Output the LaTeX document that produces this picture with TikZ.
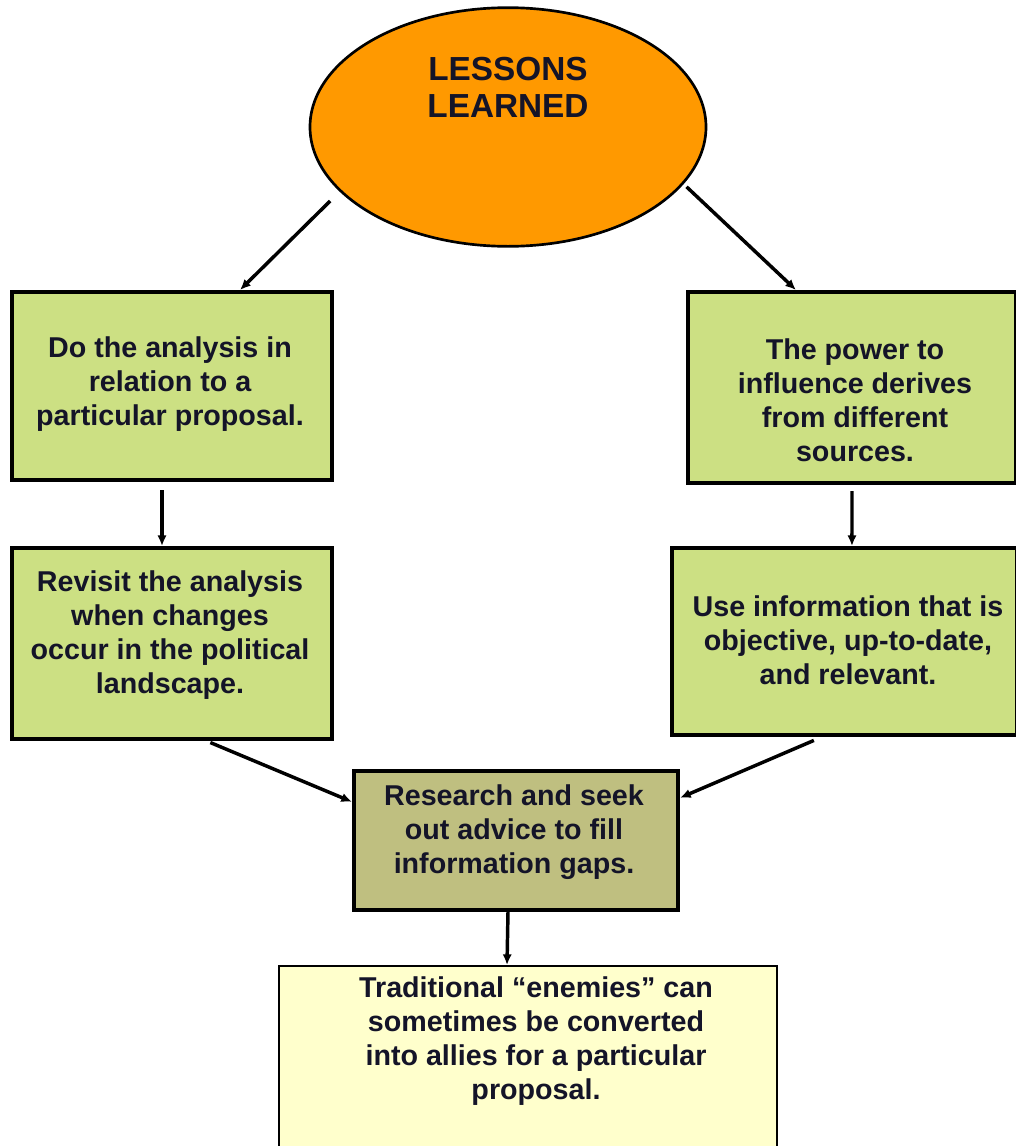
\documentclass[tikz,border=0pt]{standalone}
\usepackage{fontspec}
\setmainfont{Liberation Sans}
\usetikzlibrary{arrows.meta,shapes.geometric}

\definecolor{lessonorange}{RGB}{255,153,0}
\definecolor{stepgreen}{RGB}{204,224,131}
\definecolor{stepolive}{RGB}{191,191,128}
\definecolor{stepyellow}{RGB}{255,255,204}
\definecolor{textnavy}{RGB}{20,20,40}

\tikzset{
  stepbox/.style={draw,line width=3pt,anchor=north west,inner sep=0pt},
  steptext/.style={align=center,inner sep=0.75pt,text=textnavy,
    font=\fontsize{21.5}{25.5}\selectfont\bfseries},
  flow/.style={-{Latex[length=8pt,width=7pt]},line width=2.6pt},
}

\begin{document}
\begin{tikzpicture}[x=0.75pt,y=0.75pt,yscale=-1,xscale=1]
\useasboundingbox (0,0) rectangle (1016,1146);

%Shape: Ellipse
\node [ellipse,draw,line width=2pt,fill=lessonorange,minimum width=297pt,minimum height=179pt,inner sep=0pt] (lessons) at (508,127) {};
%Shape: Rectangle
\node [stepbox,fill=stepgreen,minimum width=240pt,minimum height=141pt] (analysis) at (10,290) {};
%Shape: Rectangle
\node [stepbox,fill=stepgreen,minimum width=246pt,minimum height=143.25pt] (power) at (686,290) {};
%Shape: Rectangle
\node [stepbox,fill=stepgreen,minimum width=240pt,minimum height=143.25pt] (revisit) at (10,546) {};
%Shape: Rectangle
\node [stepbox,fill=stepgreen,minimum width=258.75pt,minimum height=140.25pt] (info) at (670,546) {};
%Shape: Rectangle
\node [stepbox,fill=stepolive,minimum width=243pt,minimum height=104.25pt] (research) at (352,769) {};
%Shape: Rectangle
\node [stepbox,line width=1.5pt,fill=stepyellow,minimum width=373.5pt,minimum height=146pt] (enemies) at (278,965) {};

% Text Node
\node [steptext,font=\fontsize{25}{27.75}\selectfont\bfseries] (lessonstxt) at (508,87) {LESSONS\\LEARNED};
% Text Node
\node [steptext] (analysistxt) at (170,384) {Do the analysis in\\relation to a\\particular proposal.};
% Text Node
\node [steptext] (powertxt) at (855,400) {The power to\\influence derives\\from different\\sources.};
% Text Node
\node [steptext] (revisittxt) at (170,635) {Revisit the analysis\\when changes\\occur in the political\\landscape.};
% Text Node
\node [steptext] (infotxt) at (848,640) {Use information that is\\objective, up-to-date,\\and relevant.};
% Text Node
\node [steptext] (researchtxt) at (514,832) {Research and seek\\out advice to fill\\information gaps.};
% Text Node
\node [steptext] (enemiestxt) at (536,1041) {Traditional “enemies” can\\sometimes be converted\\into allies for a particular\\proposal.};

% Arrows
\draw [flow,shorten <=10pt] (lessons.201) -- ([xshift=51pt]analysis.north);
\draw [flow,shorten <=3pt] (lessons.342) -- ([xshift=-42pt]power.north);
\draw [flow,shorten <=6pt] ([xshift=-7.5pt]analysis.south) -- ([xshift=-7.5pt]revisit.north);
\draw [flow,shorten <=4.5pt] (power.south) -- ([xshift=5.6pt]info.north);
\draw [flow,shorten <=3pt] ([xshift=26pt]revisit.south) -- ([yshift=-29pt]research.west);
\draw [flow,shorten <=6.5pt] ([xshift=-17pt]info.south) -- ([yshift=-32pt]research.east);
\draw [flow] ([xshift=-6pt]research.south) -- ([xshift=-15.75pt]enemies.north);

\end{tikzpicture}
\end{document}
